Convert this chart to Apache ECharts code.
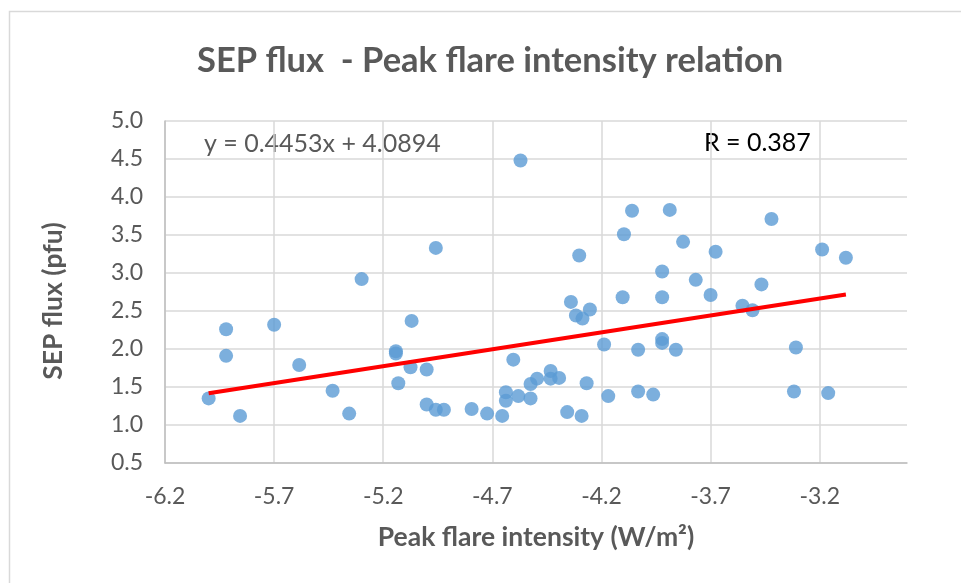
<!DOCTYPE html>
<html>
<head>
<meta charset="utf-8">
<title>SEP flux - Peak flare intensity relation</title>
<script src="https://cdn.jsdelivr.net/npm/echarts@6/dist/echarts.min.js"></script>
<style>
  html, body { margin: 0; padding: 0; background: #fff; }
  #chart { width: 961px; height: 583px; }
</style>
</head>
<body>
<div id="chart"></div>
<script>
// peak flare intensity, log10(W/m2)
var flareX = [
  -6.00, -5.92, -5.92, -5.856, -5.70, -5.585, -5.432, -5.356, -5.299, -5.142,
  -5.142, -5.131, -5.07, -5.075, -5.001, -5.001, -4.959, -4.959, -4.922, -4.795,
  -4.724, -4.655, -4.638, -4.638, -4.604, -4.581, -4.571, -4.525, -4.525, -4.495,
  -4.433, -4.433, -4.394, -4.357, -4.34, -4.317, -4.302, -4.291, -4.287, -4.268,
  -4.253, -4.188, -4.169, -4.103, -4.097, -4.06, -4.032, -4.032, -3.963, -3.922,
  -3.922, -3.922, -3.922, -3.887, -3.859, -3.826, -3.768, -3.70, -3.677, -3.554,
  -3.508, -3.467, -3.421, -3.309, -3.318, -3.189, -3.161, -3.08
];
// SEP flux (pfu), log
var sepFlux = [
  1.35, 2.26, 1.91, 1.12, 2.32, 1.79, 1.45, 1.15, 2.92, 1.97,
  1.94, 1.55, 2.37, 1.76, 1.73, 1.27, 3.33, 1.20, 1.20, 1.21,
  1.15, 1.12, 1.43, 1.32, 1.86, 1.38, 4.48, 1.35, 1.54, 1.61,
  1.71, 1.61, 1.62, 1.17, 2.62, 2.44, 3.23, 1.12, 2.40, 1.55,
  2.52, 2.06, 1.38, 2.68, 3.51, 3.82, 1.99, 1.44, 1.40, 3.02,
  2.68, 2.13, 2.08, 3.83, 1.99, 3.41, 2.91, 2.71, 3.28, 2.57,
  2.51, 2.85, 3.71, 2.02, 1.44, 3.31, 1.42, 3.20
];
// trend line as printed on the chart
var slope = 0.4453;
var intercept = 4.0894;
var rValue = 0.387;

var points = flareX.map(function (x, i) { return [x, sepFlux[i]]; });
var xLo = Math.min.apply(null, flareX);
var xHi = Math.max.apply(null, flareX);
var trend = [[xLo, slope * xLo + intercept], [xHi, slope * xHi + intercept]];

var gray = '#595959';
var font = 'Lato, "Open Sans", sans-serif';

var chart = echarts.init(document.getElementById('chart'));
chart.setOption({
  backgroundColor: '#fff',
  animation: false,
  title: {
    text: 'SEP flux  - Peak flare intensity relation',
    left: 192,
    top: 38,
    textStyle: { color: gray, fontFamily: font, fontWeight: 'bold', fontSize: 34.5 }
  },
  graphic: [
    {
      type: 'rect',
      shape: { x: 9.5, y: 11.5, width: 1000, height: 1000 },
      style: { fill: null, stroke: '#d9d9d9', lineWidth: 1.5 },
      silent: true
    },
    {
      type: 'text', left: 204, top: 131,
      style: { text: 'y = ' + slope + 'x + ' + intercept, fill: gray, font: '25px ' + font }
    },
    {
      type: 'text', left: 704, top: 130,
      style: { text: 'R = ' + rValue, fill: '#000', font: '25px ' + font }
    }
  ],
  grid: { left: 165, right: 54, top: 121, bottom: 120, containLabel: false },
  xAxis: {
    type: 'value',
    min: -6.2,
    max: -2.8,
    interval: 0.5,
    name: 'Peak flare intensity (W/m²)',
    nameLocation: 'middle',
    nameGap: 61,
    nameTextStyle: { color: gray, fontFamily: font, fontWeight: 'bold', fontSize: 26.5 },
    axisLine: { show: true, onZero: false, lineStyle: { color: '#bfbfbf', width: 1.5 } },
    axisTick: { show: false },
    axisLabel: {
      color: gray, fontFamily: font, fontSize: 23, margin: 22,
      showMaxLabel: false,
      formatter: function (v) { return v.toFixed(1); }
    },
    splitLine: { show: true, showMaxLine: false, lineStyle: { color: '#d9d9d9', width: 1.5 } }
  },
  yAxis: {
    type: 'value',
    min: 0.5,
    max: 5.0,
    interval: 0.5,
    name: 'SEP flux (pfu)',
    nameLocation: 'middle',
    nameGap: 98,
    nameTextStyle: {
      color: gray, fontFamily: font, fontWeight: 'bold', fontSize: 26.5,
      padding: [0, 18, 0, 0]
    },
    axisLine: { show: true, lineStyle: { color: '#bfbfbf', width: 1.5 } },
    axisTick: { show: false },
    axisLabel: {
      color: gray, fontFamily: font, fontSize: 23, margin: 22,
      formatter: function (v) { return v.toFixed(1); }
    },
    splitLine: { show: true, lineStyle: { color: '#d9d9d9', width: 1.5 } }
  },
  series: [
    {
      type: 'scatter',
      data: points,
      symbolSize: 14,
      itemStyle: { color: '#5B9BD5' },
      z: 2
    },
    {
      type: 'line',
      data: trend,
      symbol: 'none',
      lineStyle: { color: '#FF0000', width: 4 },
      z: 3
    }
  ]
});
</script>
</body>
</html>
